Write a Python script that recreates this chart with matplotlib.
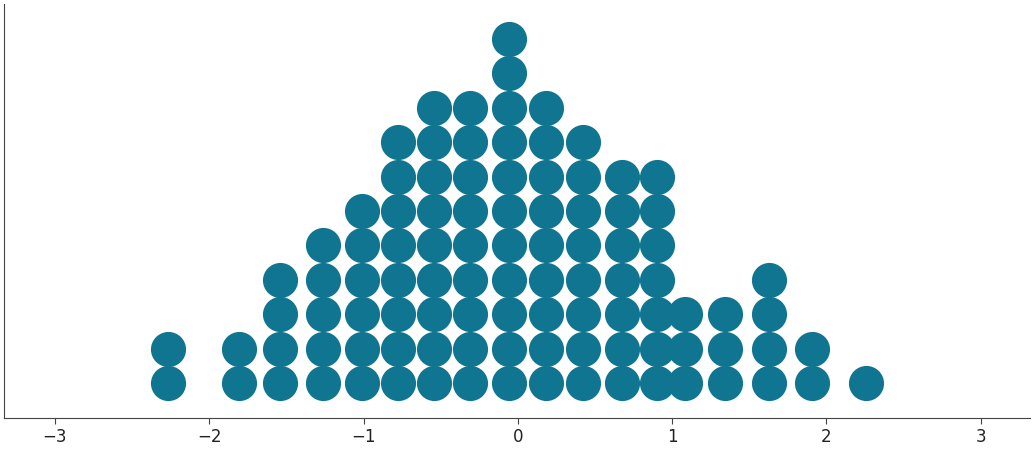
import numpy as np
import matplotlib.pyplot as plt

# column positions and how many dots are stacked in each
x_pos = [-2.267, -1.806, -1.540, -1.261, -1.008, -0.775, -0.541, -0.308, -0.055,
         0.185, 0.425, 0.678, 0.905, 1.086, 1.346, 1.625, 1.910, 2.260]
counts = [2, 2, 4, 5, 6, 8, 9, 9, 11, 9, 8, 7, 7, 3, 3, 4, 2, 1]
x_ticks = [-3, -2, -1, 0, 1, 2, 3]

dot_x = []
dot_y = []
for x, n in zip(x_pos, counts):
    for i in range(n):
        dot_x.append(x)
        dot_y.append(i)

fig = plt.figure(figsize=(10.35, 4.5), dpi=100)
ax = fig.add_axes([0.0039, 0.0711, 0.9913, 0.92])

ax.scatter(dot_x, dot_y, s=640, color="#107591", linewidths=0, zorder=3)

ax.set_xlim(-3.33, 3.32)
ax.set_ylim(-1.017, 11.02)
ax.set_xticks(x_ticks)
ax.set_yticks([])
ax.tick_params(axis="x", labelsize=12, length=4, color="#444444", labelcolor="#222222")
for side in ["top", "right"]:
    ax.spines[side].set_visible(False)
for side in ["left", "bottom"]:
    ax.spines[side].set_color("#444444")

fig.savefig("out.png", dpi=100)
